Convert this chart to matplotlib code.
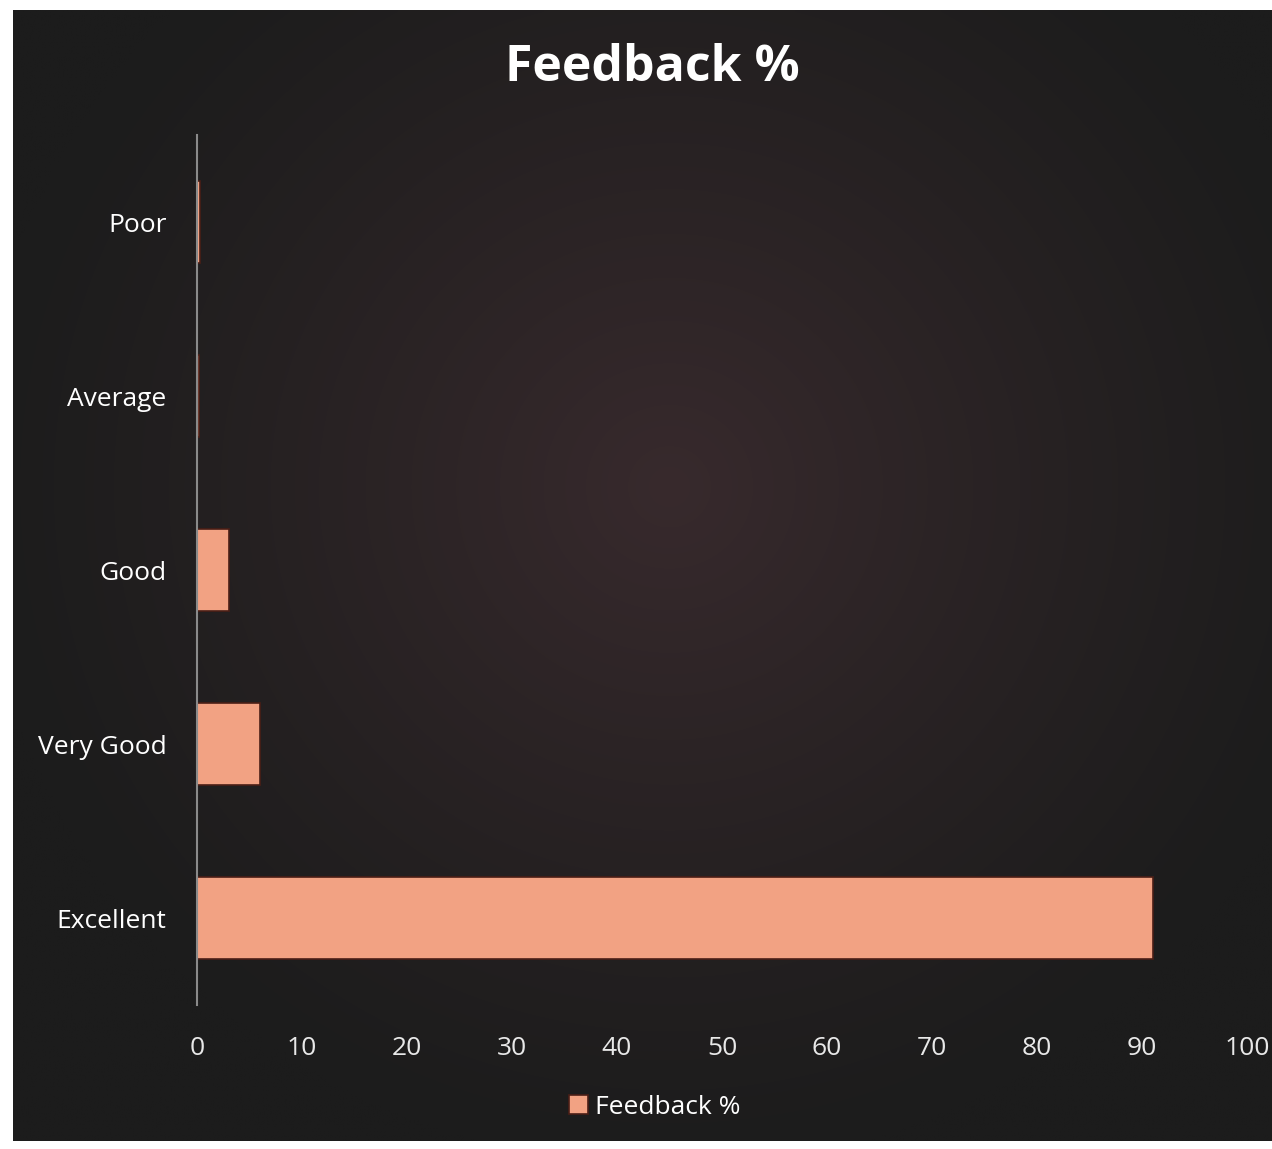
import numpy as np
import matplotlib
matplotlib.use("Agg")
import matplotlib.pyplot as plt

categories = ["Excellent", "Very Good", "Good", "Average", "Poor"]
values = [91, 6, 3, 0.2, 0.3]
xticks = [0, 10, 20, 30, 40, 50, 60, 70, 80, 90, 100]
title = "Feedback %"
series_name = "Feedback %"

plt.rcParams['font.family'] = ['Open Sans', 'DejaVu Sans']

W, H = 1272, 1149
fig = plt.figure(figsize=(W / 100, H / 100), dpi=100)
fig.patch.set_facecolor("white")

# background panel with radial gradient
bg = fig.add_axes([13 / W, 8 / H, (W - 13) / W, (H - 8 - 10) / H], zorder=-2)
ny, nx = 300, 330
yy, xx = np.mgrid[0:ny, 0:nx]
cx, cy = nx * 0.52, ny * 0.42
r = np.sqrt(((xx - cx) / (nx * 0.55)) ** 2 + ((yy - cy) / (ny * 0.6)) ** 2)
t = np.clip(1 - r, 0, 1) ** 1.2
edge = np.array([0x1c, 0x1c, 0x1c]) / 255
center = np.array([0x38, 0x2a, 0x2d]) / 255
img = edge[None, None, :] * (1 - t[..., None]) + center[None, None, :] * t[..., None]
bg.imshow(img, aspect="auto", extent=[0, 1, 0, 1], interpolation="bilinear")
bg.set_axis_off()

ax = fig.add_axes([197 / W, 1 - 1005 / H, (1247 - 197) / W, (1005 - 135) / H])
ax.set_facecolor("none")
y = np.arange(len(categories))
ax.barh(y, values, height=0.47, color="#F2A283", edgecolor="#4a1e16",
        linewidth=1.2, label=series_name)
ax.set_xlim(0, 100)
ax.set_ylim(-0.5, len(categories) - 0.5)
ax.set_yticks(y)
ax.set_yticklabels(categories, color="white", fontsize=19)
ax.set_xticks(xticks)
ax.set_xticklabels([str(v) for v in xticks], color="#e8e8e8", fontsize=19)
ax.tick_params(axis="both", length=0)
ax.tick_params(axis="x", pad=22)
ax.tick_params(axis="y", pad=22)
for s in ["top", "right", "bottom"]:
    ax.spines[s].set_visible(False)
ax.spines["left"].set_color("#8a8a8a")
ax.spines["left"].set_linewidth(1.5)

fig.text(0.513, 1 - 68 / H, title, ha="center", va="center", color="white",
         fontsize=36, fontweight="bold")

leg = fig.legend(loc="center", bbox_to_anchor=(655 / W, 1 - 1107 / H), frameon=False,
                 fontsize=19, handlelength=0.7, handleheight=0.7, handletextpad=0.3)
for tx in leg.get_texts():
    tx.set_color("white")

fig.savefig("out.png", dpi=100, facecolor=fig.get_facecolor())
